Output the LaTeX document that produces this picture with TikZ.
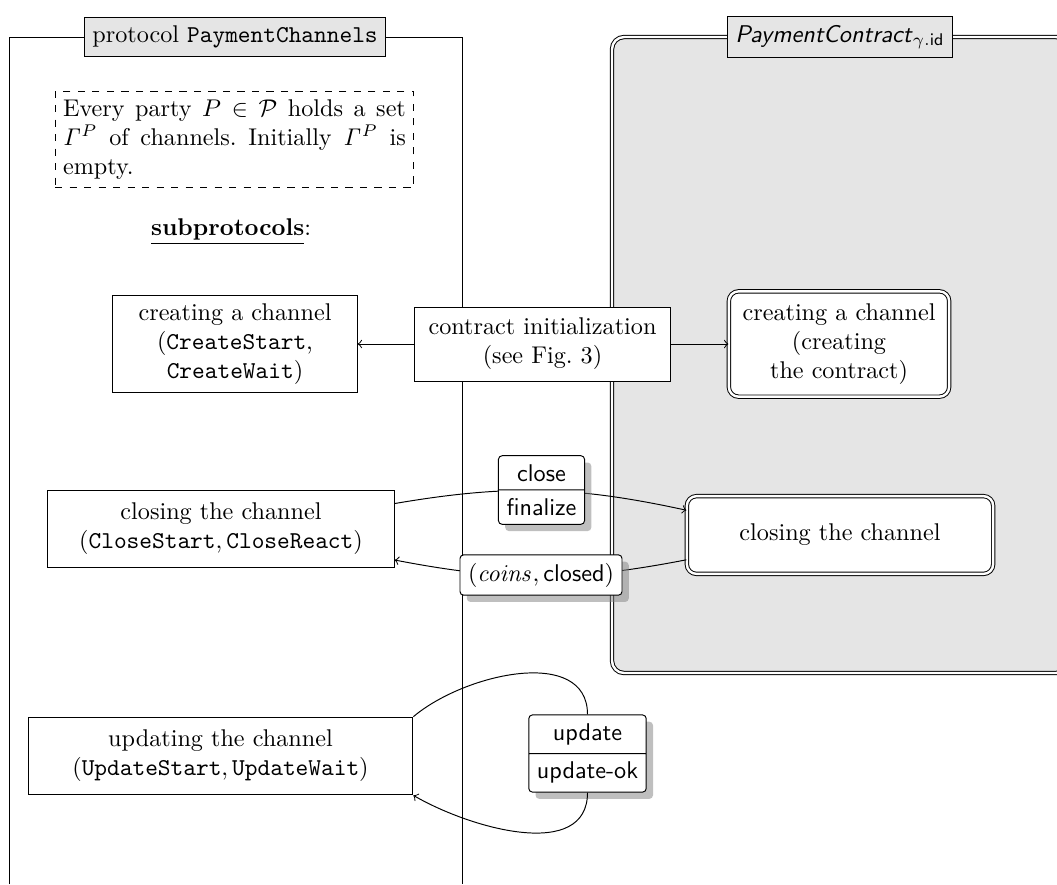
\documentclass[tikz,border=0pt]{standalone}
\usepackage{amsmath}
\usetikzlibrary{shapes.multipart,shadows}

\tikzset{
  box/.style={draw, fill=white, align=center},
  dbox/.style={box, double, double distance=1pt, rounded corners=4pt},
  ttlbox/.style={draw, fill=gray!20, minimum height=0.54cm},
  ctrframe/.style={draw, double, double distance=1pt, rounded corners=5pt, fill=gray!20},
  msgone/.style={draw, fill=white, rounded corners=1.5pt,
    drop shadow={shadow xshift=2.8pt, shadow yshift=-2.8pt}, font=\sffamily},
  msg/.style={msgone, rectangle split, rectangle split parts=2},
}

\begin{document}
\begin{tikzpicture}[x=0.01453cm, y=-0.01453cm, >=to]
  \useasboundingbox (0,0) rectangle (1057,884);

  \draw (9,884) -- (9,37) -- (462,37) -- (462,884);
  \draw[ctrframe] (612,673) rectangle (1068,37);

  \node[ttlbox] (ptitle) at (235,37) {protocol \texttt{PaymentChannels}};
  \node[ttlbox] (ctitle) at (840,37) {\textsf{\textit{PaymentContract}}$_{\gamma.\mathsf{id}}$};

  \node[draw, dashed, text width=4.98cm, align=justify] (note) at (234.5,139.5)
    {\frenchspacing Every party $P\in\mathcal{P}$ holds a set $\mathit{\Gamma}^P$ of channels. Initially $\mathit{\Gamma}^P$ is empty.};
  \node (subp) at (231,232) {\underline{\textbf{subprotocols}}:};

  \node[box, minimum width=3.55cm, minimum height=1.41cm] (createL) at (235,344)
    {creating a channel\\(\texttt{CreateStart},\\\texttt{CreateWait})};
  \node[box, minimum width=5.03cm, minimum height=1.13cm] (closeL) at (221,529)
    {closing the channel\\$(\mathtt{CloseStart},\mathtt{CloseReact})$};
  \node[box, minimum width=5.59cm, minimum height=1.13cm] (updateL) at (220.5,756)
    {updating the channel\\$(\mathtt{UpdateStart},\mathtt{UpdateWait})$};

  \node[box, minimum width=3.71cm, minimum height=1.075cm] (ctrinit) at (542.5,344)
    {contract initialization\\(see Fig.~3)};
  \node[dbox, minimum width=3.2cm, minimum height=1.53cm] (createR) at (839,344)
    {creating a channel\\(creating\\the contract)};
  \node[dbox, minimum width=4.45cm, minimum height=1.13cm] (closeR) at (840,535)
    {closing the channel};

  \draw[->] (ctrinit) -- (createL);
  \draw[->] (ctrinit) -- (createR);
  \draw[->] ([yshift=0.37cm]closeL.east) to[bend left=11] ([yshift=0.36cm]closeR.west);
  \draw[->] ([yshift=-0.36cm]closeR.west) to[bend left=11] ([yshift=-0.45cm]closeL.east);

  \node[msg] (closemsg) at (541.5,490) {close\nodepart{two}finalize};
  \node[msgone] (coinsmsg) at (541,575) {$(\mathit{coins},\textsf{closed})$};
  \node[msg] (updmsg) at (587.5,753.5) {update\nodepart{two}update-ok};

  \draw (updateL.north east) to[out=40, in=90] (updmsg.north);
  \draw[->] (updmsg.south) to[out=-90, in=-30] (updateL.south east);
\end{tikzpicture}
\end{document}
